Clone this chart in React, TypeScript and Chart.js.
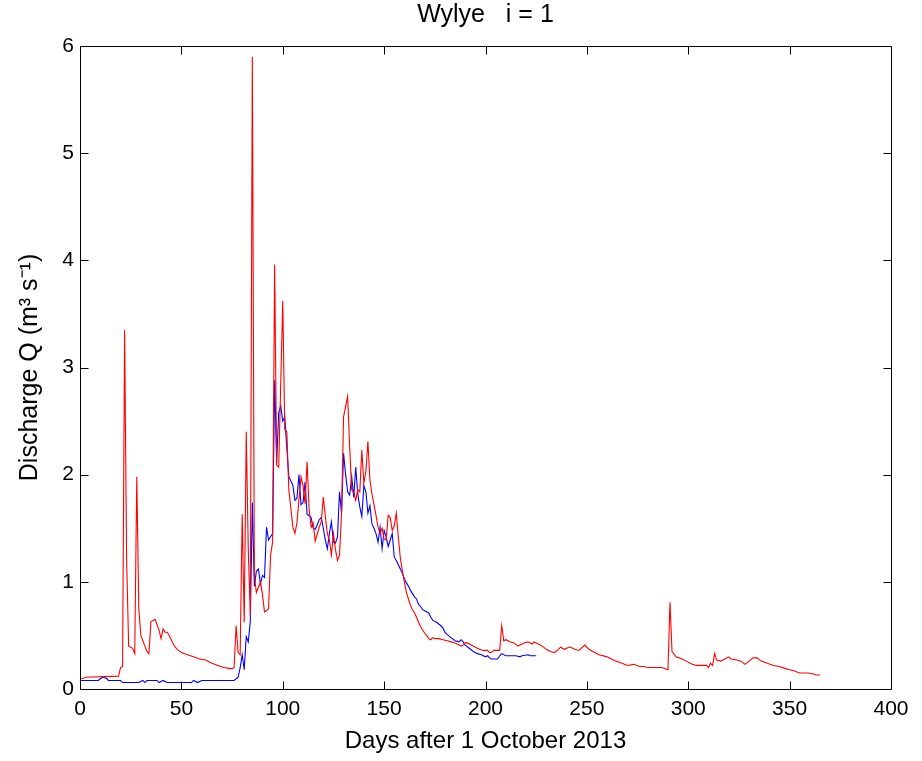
import React, { useEffect, useRef } from "react";
import { Chart, registerables } from "chart.js";

Chart.register(...registerables);

const chartTitle = "Wylye   i = 1";
const xAxisLabel = "Days after 1 October 2013";
const yAxisLabel = "Discharge Q (m\u00B3 s\u207B\u00B9)";

const xTickValues = [0, 50, 100, 150, 200, 250, 300, 350, 400];
const yTickValues = [0, 1, 2, 3, 4, 5, 6];

// Red series
const redDays = [
  0, 3, 19, 20, 21, 22, 23, 24, 25, 26, 27, 28, 29, 30, 31, 32, 33, 34, 35, 36,
  37, 38, 39, 40, 41, 42, 43, 44, 45, 46, 47, 48, 50, 53, 56, 59, 62, 65, 68, 71,
  74, 75, 76, 77, 78, 79, 80, 81, 82, 83, 84, 85, 86, 87, 88, 89, 90, 91, 92, 93,
  94, 95, 96, 97, 98, 100, 101, 102, 103, 105, 106, 107, 109, 110, 111, 112, 113, 114, 115, 116,
  118, 119, 120, 121, 122, 123, 124, 125, 126, 127, 128, 129, 130, 132, 133, 134, 135, 136, 137, 138,
  139, 140, 141, 142, 143, 144, 146, 147, 148, 149, 150, 151, 152, 153, 154, 155, 156, 157, 158, 159,
  160, 161, 162, 163, 164, 165, 166, 167, 168, 169, 170, 171, 172, 173, 174, 175, 177, 179, 181, 183,
  185, 187, 188, 189, 190, 191, 193, 195, 197, 199, 201, 202, 203, 204, 207, 208, 209, 210, 212, 214,
  216, 217, 219, 221, 222, 223, 224, 225, 226, 228, 230, 232, 234, 236, 237, 239, 241, 242, 244, 246,
  249, 251, 253, 256, 260, 263, 266, 270, 273, 276, 278, 280, 287, 290, 291, 292, 294, 297, 299, 302,
  304, 309, 310, 311, 312, 313, 314, 316, 318, 320, 321, 324, 326, 328, 330, 332, 334, 336, 339, 342,
  345, 348, 350, 352, 355, 359, 362, 363, 365,
];
const redQ = [
  0.09, 0.11, 0.12, 0.2, 0.21, 3.35, 1.2, 0.4, 0.39, 0.38, 0.33, 1.98, 0.75, 0.5, 0.45, 0.4, 0.35, 0.33, 0.63, 0.64,
  0.65, 0.6, 0.55, 0.47, 0.56, 0.53, 0.53, 0.5, 0.46, 0.42, 0.39, 0.37, 0.34, 0.32, 0.3, 0.28, 0.27, 0.24, 0.22, 0.2,
  0.19, 0.19, 0.2, 0.59, 0.34, 0.32, 1.63, 0.62, 2.4, 1.3, 0.69, 5.9, 1.05, 0.9, 0.95, 1.0, 0.88, 0.72, 0.73, 0.75,
  1.25, 1.37, 3.96, 2.09, 2.07, 3.62, 2.42, 2.4, 1.86, 1.51, 1.45, 1.55, 1.98, 1.9, 1.73, 2.12, 1.68, 1.51, 1.55, 1.38,
  1.51, 1.56, 1.79, 1.61, 1.45, 1.39, 1.25, 1.45, 1.3, 1.2, 1.25, 1.64, 2.54, 2.73, 2.26, 1.86, 1.84, 1.76, 1.86, 1.84,
  2.23, 1.92, 2.03, 2.31, 1.95, 1.82, 1.62, 1.51, 1.45, 1.5, 1.4, 1.39, 1.62, 1.6, 1.48, 1.52, 1.64, 1.42, 1.22, 1.1,
  1.0, 0.9, 0.84, 0.78, 0.74, 0.71, 0.67, 0.62, 0.58, 0.55, 0.52, 0.5, 0.47, 0.46, 0.48, 0.47, 0.47, 0.46, 0.45, 0.44,
  0.43, 0.41, 0.4, 0.41, 0.43, 0.43, 0.41, 0.39, 0.37, 0.36, 0.36, 0.34, 0.34, 0.36, 0.36, 0.59, 0.45, 0.46, 0.44, 0.43,
  0.4, 0.41, 0.43, 0.44, 0.43, 0.42, 0.44, 0.43, 0.42, 0.4, 0.37, 0.35, 0.34, 0.37, 0.39, 0.37, 0.39, 0.39, 0.37, 0.36,
  0.41, 0.37, 0.35, 0.32, 0.3, 0.27, 0.25, 0.22, 0.23, 0.21, 0.21, 0.2, 0.2, 0.18, 0.81, 0.35, 0.3, 0.28, 0.26, 0.23,
  0.22, 0.22, 0.2, 0.24, 0.22, 0.33, 0.27, 0.26, 0.28, 0.3, 0.28, 0.27, 0.26, 0.23, 0.26, 0.29, 0.29, 0.26, 0.24, 0.22,
  0.21, 0.19, 0.18, 0.17, 0.15, 0.15, 0.14, 0.13, 0.13,
];

// Blue series
const blueDays = [
  0, 9, 11, 13, 14, 20, 21, 29, 31, 32, 33, 38, 39, 41, 43, 55, 56, 58, 60, 76,
  78, 79, 80, 81, 82, 83, 84, 85, 86, 87, 88, 89, 90, 91, 92, 93, 94, 95, 96, 97,
  98, 99, 100, 101, 102, 103, 104, 105, 106, 107, 108, 109, 110, 111, 112, 113, 114, 115, 116, 117,
  118, 119, 120, 121, 122, 123, 124, 125, 126, 127, 128, 129, 130, 131, 132, 133, 134, 135, 136, 137,
  138, 139, 140, 141, 142, 143, 144, 145, 146, 147, 148, 149, 150, 151, 152, 153, 154, 155, 156, 157,
  158, 159, 160, 161, 162, 163, 164, 165, 166, 167, 168, 169, 170, 172, 173, 174, 176, 178, 179, 180,
  181, 183, 185, 187, 188, 189, 190, 192, 194, 196, 198, 200, 201, 202, 203, 205, 206, 207, 208, 210,
  215, 217, 218, 221, 222, 225,
];
const blueQ = [
  0.08, 0.08, 0.11, 0.1, 0.08, 0.08, 0.06, 0.06, 0.08, 0.06, 0.08, 0.08, 0.06, 0.08, 0.06, 0.06, 0.08, 0.06, 0.08, 0.08,
  0.11, 0.2, 0.32, 0.18, 0.49, 0.44, 0.63, 1.74, 0.96, 1.1, 1.12, 0.98, 1.06, 1.04, 1.51, 1.39, 1.42, 1.45, 2.88, 2.11,
  2.58, 2.64, 2.5, 2.54, 2.25, 1.98, 1.94, 1.9, 1.76, 1.78, 2.0, 1.72, 1.74, 1.93, 1.63, 1.62, 1.6, 1.5, 1.49, 1.53,
  1.58, 1.6, 1.5, 1.39, 1.31, 1.45, 1.56, 1.37, 1.36, 1.42, 1.84, 1.64, 2.2, 2.0, 1.84, 1.81, 1.98, 1.79, 2.07, 1.82,
  1.7, 1.61, 1.9, 1.84, 1.64, 1.71, 1.54, 1.5, 1.45, 1.37, 1.51, 1.31, 1.48, 1.42, 1.33, 1.39, 1.45, 1.23, 1.2, 1.16,
  1.12, 1.08, 1.03, 0.99, 0.96, 0.92, 0.89, 0.86, 0.84, 0.79, 0.77, 0.74, 0.73, 0.71, 0.67, 0.64, 0.62, 0.59, 0.57, 0.53,
  0.51, 0.48, 0.45, 0.44, 0.46, 0.44, 0.41, 0.38, 0.35, 0.33, 0.32, 0.3, 0.31, 0.29, 0.28, 0.28, 0.28, 0.31, 0.33, 0.31,
  0.31, 0.3, 0.31, 0.32, 0.31, 0.31,
];

const FONT = "'Liberation Sans', Arial, Helvetica, sans-serif";
const TICK_LEN = 8;

const boxPlugin = {
  id: "matlabBox",
  afterDraw(chart: any) {
    const { ctx, chartArea } = chart;
    const { left, right, top, bottom } = chartArea;
    const xs = chart.scales.x;
    const ys = chart.scales.y;
    ctx.save();
    ctx.strokeStyle = "#000";
    ctx.lineWidth = 1;
    const L = Math.round(left) + 0.5;
    const R = Math.round(right) + 0.5;
    const T = Math.round(top) + 0.5;
    const B = Math.round(bottom) + 0.5;
    ctx.beginPath();
    ctx.rect(L, T, R - L, B - T);
    for (const v of xTickValues) {
      const px = Math.round(xs.getPixelForValue(v)) + 0.5;
      ctx.moveTo(px, B);
      ctx.lineTo(px, B - TICK_LEN);
      ctx.moveTo(px, T);
      ctx.lineTo(px, T + TICK_LEN);
    }
    for (const v of yTickValues) {
      const py = Math.round(ys.getPixelForValue(v)) + 0.5;
      ctx.moveTo(L, py);
      ctx.lineTo(L + TICK_LEN, py);
      ctx.moveTo(R, py);
      ctx.lineTo(R - TICK_LEN, py);
    }
    ctx.stroke();
    ctx.restore();
  },
};

export default function App() {
  const canvasRef = useRef<HTMLCanvasElement | null>(null);

  useEffect(() => {
    if (!canvasRef.current) return;
    const toPoints = (xs: number[], ys: number[]) => xs.map((d, i) => ({ x: d, y: ys[i] }));
    const chart = new Chart(canvasRef.current, {
      type: "line",
      data: {
        datasets: [
          {
            label: "red",
            data: toPoints(redDays, redQ),
            borderColor: "#ff0000",
            borderWidth: 1.1,
            pointRadius: 0,
            tension: 0,
            fill: false,
          },
          {
            label: "blue",
            data: toPoints(blueDays, blueQ),
            borderColor: "#0000ff",
            borderWidth: 1.1,
            pointRadius: 0,
            tension: 0,
            fill: false,
          },
        ],
      },
      options: {
        animation: false,
        responsive: false,
        maintainAspectRatio: false,
        layout: { padding: { left: 0, right: 31, top: 0, bottom: 0 } },
        plugins: {
          legend: { display: false },
          tooltip: { enabled: false },
          title: {
            display: true,
            fullSize: false,
            text: chartTitle,
            color: "#000",
            font: { family: FONT, size: 25, weight: "normal" },
            padding: { top: 0, bottom: 16 },
          },
        },
        scales: {
          x: {
            type: "linear",
            min: 0,
            max: 400,
            afterFit: (s: any) => {
              s.height = 72;
            },
            afterBuildTicks: (s: any) => {
              s.ticks = xTickValues.map((v) => ({ value: v }));
            },
            grid: { display: false, drawTicks: false },
            border: { display: false },
            ticks: {
              color: "#000",
              font: { family: FONT, size: 21 },
              padding: 8,
              maxRotation: 0,
              autoSkip: false,
            },
            title: {
              display: true,
              text: xAxisLabel,
              color: "#000",
              font: { family: FONT, size: 24 },
              padding: { top: 0, bottom: 5 },
            },
          },
          y: {
            type: "linear",
            min: 0,
            max: 6,
            afterFit: (s: any) => {
              s.width = 80;
            },
            afterBuildTicks: (s: any) => {
              s.ticks = yTickValues.map((v) => ({ value: v }));
            },
            grid: { display: false, drawTicks: false },
            border: { display: false },
            ticks: {
              color: "#000",
              font: { family: FONT, size: 21 },
              padding: 6,
              autoSkip: false,
            },
            title: {
              display: true,
              text: yAxisLabel,
              color: "#000",
              font: { family: FONT, size: 25 },
              padding: { top: 15, bottom: 0 },
            },
          },
        },
      },
      plugins: [boxPlugin],
    });
    return () => chart.destroy();
  }, []);

  return (
    <div style={{ position: "fixed", left: 0, top: 0, width: 922, height: 761, background: "#fff" }}>
      <canvas ref={canvasRef} width={922} height={761} style={{ width: 922, height: 761 }} />
    </div>
  );
}
